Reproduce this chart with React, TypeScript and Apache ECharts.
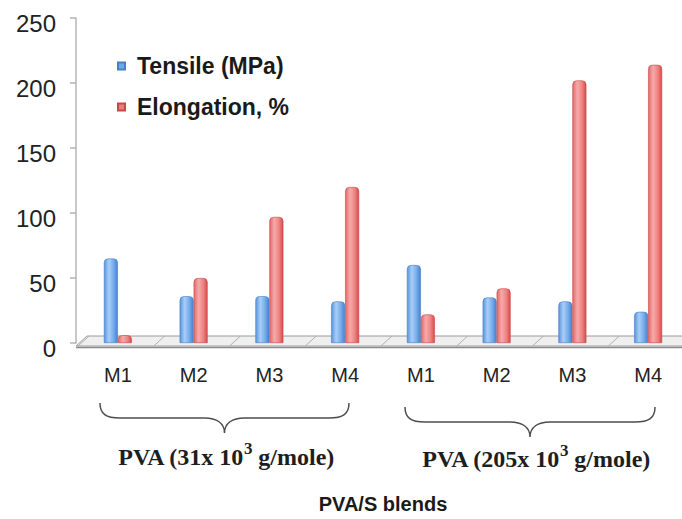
import React, { useEffect, useRef } from "react";
import * as echarts from "echarts";

const categories = ["M1", "M2", "M3", "M4", "M1", "M2", "M3", "M4"];
const tensile = [65, 36, 36, 32, 60, 35, 32, 24];
const elongation = [6, 50, 97, 120, 22, 42, 202, 214];
const seriesNames = ["Tensile (MPa)", "Elongation, %"];
const groupMasses = ["31", "205"];
const xTitle = "PVA/S blends";
const yMin = 0;
const yMax = 250;
const yInterval = 50;

const BRACE_D =
  "M0,0 C0,11 6,15 20,15 L105,15 C117,15 125,20 125,30 C125,20 133,15 145,15 L230,15 C244,15 250,11 250,0";

let registered = false;
function ensureShapes() {
  if (registered) return;
  echarts.graphic.registerShape("brace", echarts.graphic.extendPath(BRACE_D, {}) as any);
  registered = true;
}

const GRID_LEFT = 80;
const GRID_TOP = 18;
const GRID_BOTTOM = 176;
const GRID_WIDTH = 606;

export default function App() {
  const ref = useRef<HTMLDivElement>(null);

  useEffect(() => {
    if (!ref.current) return;
    ensureShapes();
    const chart = echarts.init(ref.current, null, { renderer: "svg" });

    const blueGrad = new echarts.graphic.LinearGradient(0, 0, 1, 0, [
      { offset: 0, color: "#5894de" },
      { offset: 0.35, color: "#a8cef7" },
      { offset: 0.7, color: "#76aceb" },
      { offset: 1, color: "#4781cf" },
    ]);
    const redGrad = new echarts.graphic.LinearGradient(0, 0, 1, 0, [
      { offset: 0, color: "#e46868" },
      { offset: 0.35, color: "#f6aaaa" },
      { offset: 0.7, color: "#ee8383" },
      { offset: 1, color: "#d94a4a" },
    ]);

    const zeroY = 519 - GRID_BOTTOM;
    const catW = GRID_WIDTH / categories.length;
    const floorEls: any[] = [
      {
        type: "polygon",
        z: 0,
        shape: {
          points: [
            [76, zeroY + 3],
            [87, zeroY - 7],
            [700, zeroY - 7],
            [700, zeroY + 3],
          ],
        },
        style: { fill: "#efefef", stroke: "#9c9c9c", lineWidth: 1 },
      },
      {
        type: "line",
        z: 0,
        shape: { x1: 76, y1: zeroY + 4.5, x2: 700, y2: zeroY + 4.5 },
        style: { stroke: "#8a8a8a", lineWidth: 1.5 },
      },
    ];
    for (let i = 0; i <= categories.length; i++) {
      const bx = GRID_LEFT + i * catW;
      floorEls.push({
        type: "line",
        z: 0,
        shape: { x1: bx - 2, y1: zeroY + 3, x2: bx + 9, y2: zeroY - 7 },
        style: { stroke: "#b0b0b0", lineWidth: 1 },
      });
    }

    const braces = [
      { x: 100, y: 403, sx: 249 / 250 },
      { x: 405, y: 407, sx: 250 / 250 },
    ];
    const braceEls = braces.map((b) => ({
      type: "brace",
      x: b.x,
      y: b.y,
      scaleX: b.sx,
      scaleY: 1,
      style: { stroke: "#4d4d4d", fill: "none", lineWidth: 1.5 },
    }));

    const groupText = [
      { x: 226, y: 457 },
      { x: 536, y: 459 },
    ];
    const textEls = groupMasses.map((m, i) => ({
      type: "text",
      x: groupText[i].x,
      y: groupText[i].y,
      style: {
        text: `PVA (${m}x 10{sup|3} g/mole)`,
        fontFamily: '"Liberation Serif", "Times New Roman", serif',
        fontSize: 24,
        fontWeight: "bold",
        fill: "#1e1e1e",
        align: "center",
        verticalAlign: "middle",
        textAlign: "center",
        textVerticalAlign: "middle",
        rich: {
          sup: {
            fontFamily: '"Liberation Serif", "Times New Roman", serif',
            fontSize: 17,
            fontWeight: "bold",
            fill: "#1e1e1e",
            lineHeight: 20,
            padding: [0, 0, 18, 0],
          },
        },
      },
    }));

    chart.setOption({
      animation: false,
      backgroundColor: "#ffffff",
      textStyle: { fontFamily: '"Liberation Sans", Arial, sans-serif' },
      grid: {
        left: GRID_LEFT,
        top: GRID_TOP,
        bottom: GRID_BOTTOM,
        width: GRID_WIDTH,
        containLabel: false,
        outerBoundsMode: "none",
      },
      legend: {
        orient: "vertical",
        left: 117,
        top: 53,
        padding: 0,
        itemWidth: 7,
        itemHeight: 7,
        itemGap: 15,
        icon: "rect",
        data: [
          { name: seriesNames[0], itemStyle: { color: "#6fa7e8" } },
          { name: seriesNames[1], itemStyle: { color: "#ec7b7b" } },
        ],
        textStyle: {
          fontSize: 23,
          fontWeight: "bold",
          color: "#1a1a1a",
          lineHeight: 26,
          padding: [0, 0, 0, 7],
          fontFamily: '"Liberation Sans", Arial, sans-serif',
        },
      },
      xAxis: {
        type: "category",
        data: categories,
        axisLine: { show: false },
        axisTick: { show: false },
        axisLabel: {
          fontSize: 20,
          color: "#222222",
          margin: 22,
          fontFamily: '"Liberation Sans", Arial, sans-serif',
        },
        name: xTitle,
        nameLocation: "middle",
        nameGap: 151,
        nameTextStyle: {
          fontSize: 20,
          fontWeight: "bold",
          color: "#1a1a1a",
          fontFamily: '"Liberation Sans", Arial, sans-serif',
        },
      },
      yAxis: {
        type: "value",
        min: yMin,
        max: yMax,
        interval: yInterval,
        offset: 4,
        axisLine: { show: true, lineStyle: { color: "#b5b5b5", width: 1.5 } },
        axisTick: { show: true, length: 6, lineStyle: { color: "#b5b5b5", width: 1.5 } },
        splitLine: { show: false },
        axisLabel: {
          fontSize: 24,
          color: "#222222",
          margin: 20,
          verticalAlign: "top",
          lineHeight: 10,
          fontFamily: '"Liberation Sans", Arial, sans-serif',
        },
      },
      series: [
        {
          name: seriesNames[0],
          type: "bar",
          data: tensile,
          barWidth: 14,
          barGap: "0%",
          z: 3,
          itemStyle: {
            color: blueGrad,
            borderColor: "#4a7fc4",
            borderWidth: 0.6,
            borderRadius: [4, 4, 0, 0],
          },
        },
        {
          name: seriesNames[1],
          type: "bar",
          data: elongation,
          barWidth: 14,
          z: 3,
          itemStyle: {
            color: redGrad,
            borderColor: "#c84848",
            borderWidth: 0.6,
            borderRadius: [4, 4, 0, 0],
          },
        },
      ],
      graphic: [...floorEls, ...braceEls, ...textEls],
    });

    return () => chart.dispose();
  }, []);

  return (
    <div
      ref={ref}
      style={{ position: "fixed", left: 0, top: 0, width: 682, height: 519, background: "#fff" }}
    />
  );
}
